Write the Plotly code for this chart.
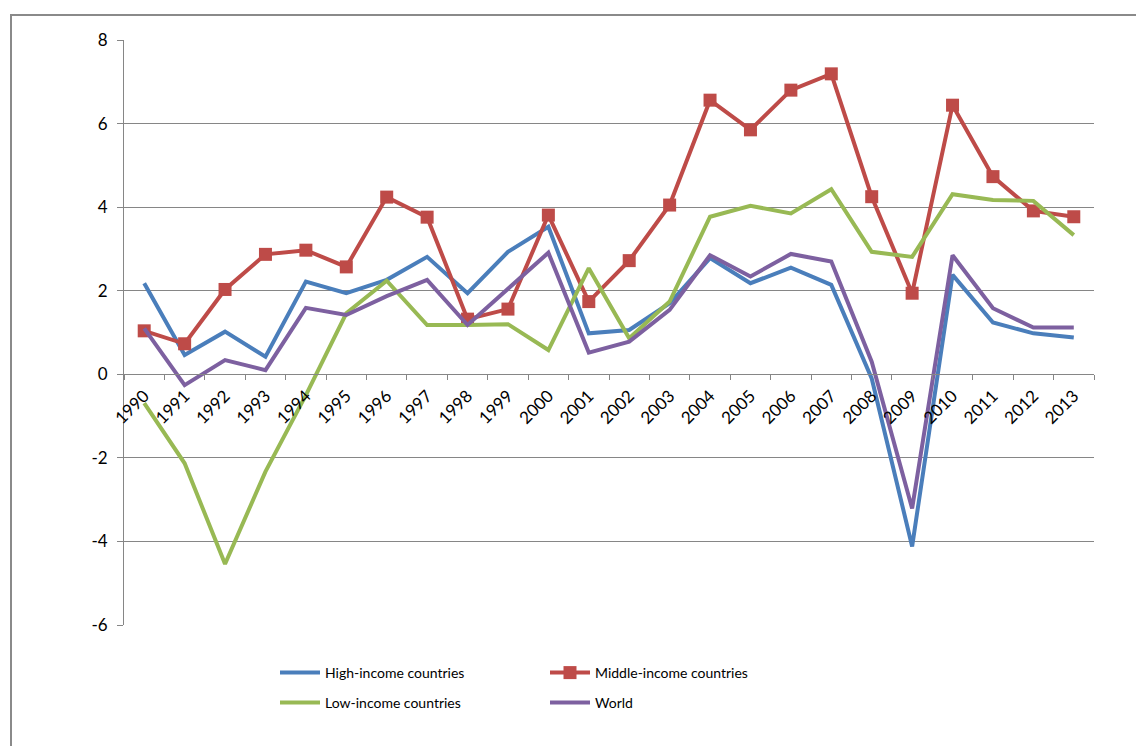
import plotly.graph_objects as go

years = [str(y) for y in range(1990, 2014)]

high_income = [2.18, 0.46, 1.02, 0.42, 2.22, 1.94, 2.26, 2.81, 1.94, 2.93, 3.53, 0.98,
               1.06, 1.70, 2.78, 2.18, 2.55, 2.14, -0.10, -4.12, 2.38, 1.24, 0.98, 0.88]
middle_income = [1.04, 0.73, 2.03, 2.87, 2.97, 2.57, 4.24, 3.76, 1.32, 1.56, 3.81, 1.74,
                 2.72, 4.05, 6.56, 5.85, 6.80, 7.19, 4.25, 1.94, 6.44, 4.73, 3.91, 3.77]
low_income = [-0.69, -2.13, -4.54, -2.33, -0.50, 1.46, 2.24, 1.18, 1.18, 1.20, 0.58, 2.54,
              0.86, 1.74, 3.77, 4.03, 3.85, 4.43, 2.93, 2.81, 4.31, 4.17, 4.15, 3.33]
world = [1.10, -0.26, 0.34, 0.10, 1.59, 1.42, 1.87, 2.26, 1.18, 2.03, 2.91, 0.52,
         0.78, 1.54, 2.85, 2.34, 2.88, 2.70, 0.30, -3.21, 2.85, 1.58, 1.12, 1.12]

y_ticks = [-6, -4, -2, 0, 2, 4, 6, 8]
y_tick_labels = ["-6", "-4", "-2", "0", "2", "4", "6", "8"]

FONT = "Lato"
W, H = 1136, 746
L, R, T, B = 124, 42, 40, 121
PW, PH = W - L - R, H - T - B


def px_x(px):
    return (px - L) / PW


def px_y(py):
    return (H - B - py) / PH


fig = go.Figure()

series = [
    ("High-income countries", high_income, "#4A7EBB", False, "legend", 283, 673),
    ("Middle-income countries", middle_income, "#BE4B48", True, "legend2", 553, 673),
    ("Low-income countries", low_income, "#98B954", False, "legend3", 283, 703),
    ("World", world, "#7D60A0", False, "legend4", 553, 703),
]

legend_layouts = {}
for name, vals, color, mk, leg, lx, ly in series:
    fig.add_trace(go.Scatter(
        x=years, y=vals, name=name,
        mode="lines+markers" if mk else "lines",
        line=dict(color=color, width=4),
        marker=dict(symbol="square", size=13, color=color),
        legend=leg,
    ))
    legend_layouts[leg] = dict(
        x=px_x(lx - 8), xanchor="left",
        y=px_y(ly), yanchor="middle",
        font=dict(family=FONT, size=14, color="#000000"),
        bgcolor="rgba(0,0,0,0)", itemwidth=40,
    )

fig.update_layout(
    width=W, height=H,
    margin=dict(l=L, r=R, t=T, b=B, pad=0),
    paper_bgcolor="white", plot_bgcolor="white",
    font=dict(family=FONT, size=15, color="#000000"),
    showlegend=True,
    **legend_layouts,
    xaxis=dict(
        type="category", range=[-0.5, 23.5],
        anchor="free", position=6 / 14,
        showline=True, linecolor="#868686", linewidth=1,
        ticks="outside", ticklen=5, tickcolor="#868686", tickson="boundaries",
        tickangle=-45, showgrid=False, zeroline=False, ticklabelstandoff=4,
        tickfont=dict(family=FONT, size=17),
    ),
    yaxis=dict(
        range=[-6, 8], tickvals=y_ticks, ticktext=y_tick_labels,
        showline=True, linecolor="#868686", linewidth=1,
        ticks="outside", ticklen=6, tickcolor="#868686", ticklabelstandoff=6,
        showgrid=True, gridcolor="#868686", gridwidth=1,
        zeroline=True, zerolinecolor="#868686", zerolinewidth=1,
        tickfont=dict(family=FONT, size=17),
    ),
    shapes=[dict(
        type="rect", xref="paper", yref="paper",
        x0=px_x(11), x1=px_x(1145), y0=px_y(760), y1=px_y(15),
        line=dict(color="#8A8A8A", width=2), fillcolor="rgba(0,0,0,0)",
        layer="below",
    )],
)

fig.write_html("out.html")
